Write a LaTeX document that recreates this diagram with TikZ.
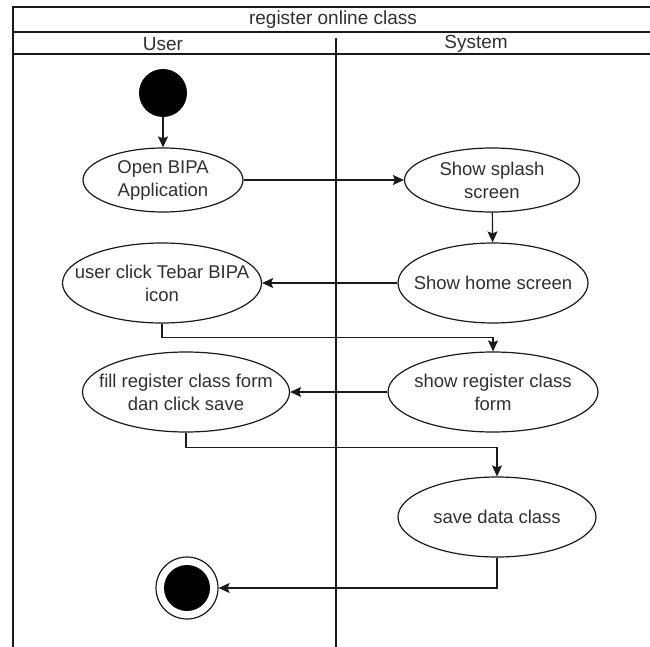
\documentclass[tikz,border=0pt]{standalone}
\usepackage{fontspec}
\setmainfont{Liberation Sans}
\usetikzlibrary{shapes.geometric,arrows.meta}
\definecolor{ink}{HTML}{1A1A1A}
\definecolor{txt}{HTML}{303030}
\tikzset{
  frame/.style={draw=ink, line width=1.3pt},
  act/.style={ellipse, draw=ink, line width=1.2pt, inner sep=0pt},
  acttext/.style={text=txt, align=center, inner sep=0pt,
    font=\fontsize{18.5}{23}\selectfont},
  flow/.style={draw=ink, line width=1.2pt, -{Stealth[length=11pt,width=10pt,inset=2pt]}},
  lbl/.style={text=txt, font=\fontsize{19}{22}\selectfont, inner sep=0pt}
}
% activity: ellipse of fixed size with its text laid on top
\newcommand\activity[5]{%
  \node[act, minimum width=#3, minimum height=#4] (#1) at #2 {};
  \node[acttext] (#1-text) at (#1.center) {#5};
}
\begin{document}
\begin{tikzpicture}[x=1pt, y=-1pt]
\useasboundingbox (0,0) rectangle (650,647);
\fill[white] (0,0) rectangle (650,647);

% swimlane frame
\draw[frame] (13,647) -- (13,7) -- (650,7);
\draw[frame] (13,32) -- (650,32);
\draw[frame] (13,54) -- (650,54);
\draw[frame] (336,38) -- (336,647);
\node[lbl] (title) at (333,20) {register online class};
\node[lbl] (lane1) at (163,44) {User};
\node[lbl] (lane2) at (476,44) {System};

% initial and final states
\node[circle, fill=black, minimum size=48pt, inner sep=0pt] (start) at (163,93) {};
\node[circle, draw=ink, line width=1.2pt, minimum size=62pt, inner sep=0pt] (end) at (187,588) {};
\node[circle, fill=black, minimum size=46pt, inner sep=0pt] (endcore) at (187,588) {};

% activities
\activity{open}{(163,180)}{160pt}{64pt}{Open BIPA\\Application}
\activity{splash}{(492,180)}{175pt}{64pt}{Show splash\\screen}
\activity{home}{(493,283)}{190pt}{80pt}{Show home screen}
\activity{click}{(162,283)}{199pt}{80pt}{user click Tebar BIPA\\icon}
\activity{fill}{(186,392)}{207pt}{80pt}{fill register class form\\dan click save}
\activity{regform}{(493,392)}{210pt}{80pt}{show register class\\form}
\activity{save}{(497,517)}{198pt}{80pt}{save data class}

% control flow
\draw[flow] (start) -- (open);
\draw[flow] (open) -- (splash);
\draw[flow] (splash) -- (home);
\draw[flow] (home) -- (click);
\draw[flow] (click.south) -- ++(0,14) -| (regform.north);
\draw[flow] (regform) -- (fill);
\draw[flow] (fill.south) -- ++(0,15) -| (save.north);
\draw[flow] (save.south) |- (end.east);
\end{tikzpicture}
\end{document}
